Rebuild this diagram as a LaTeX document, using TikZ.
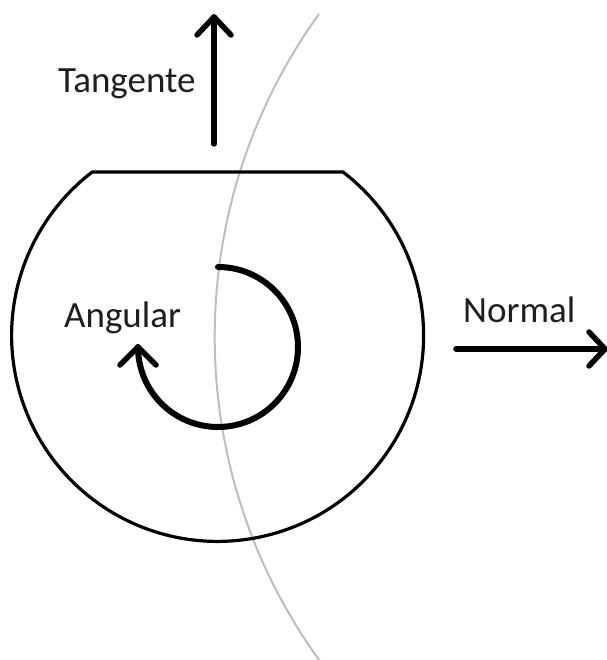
\documentclass[tikz,border=0pt]{standalone}
\usepackage{fontspec}
\setmainfont{Carlito}
\definecolor{txt}{RGB}{30,30,30}
\definecolor{guide}{RGB}{190,190,190}
\tikzset{
  label/.style={anchor=base west, inner sep=0pt, text=txt, font=\fontsize{37}{42}\selectfont},
  thickarrow/.style={line width=5.5pt, line cap=round, line join=round},
  outline/.style={line width=3.2pt, line join=miter},
  guideline/.style={guide, line width=2pt}
}
\begin{document}
\begin{tikzpicture}[x=1pt,y=1pt]
\useasboundingbox (0,0) rectangle (606,660);
% grey guide arc
\draw[guideline] (319,646) arc[start angle=144.2, end angle=216, radius=552];
% outer body
\draw[outline] (93,488) -- (343,488) arc[start angle=52.5, end angle=-232.5, radius=206] -- cycle;
% tangent arrow
\coordinate (tb) at (214,516);
\coordinate (tt) at (214,643);
\draw[thickarrow] (tb) -- (tt);
\draw[thickarrow] (197,625) -- (tt) -- (231,625);
% normal arrow
\coordinate (nb) at (456,311);
\coordinate (nt) at (605,311);
\draw[thickarrow] (nb) -- (nt);
\draw[thickarrow] (589,328) -- (nt) -- (589,294);
% angular arrow
\coordinate (as) at (218,393);
\draw[thickarrow, line width=6pt] (as) arc[start angle=90, end angle=-180, radius=80] coordinate (ae);
\draw[thickarrow] (120,295) -- (ae) -- (156,295);
% labels
\node[label] (tang) at (58,567.5) {Tangente};
\node[label] (ang) at (64,332) {Angular};
\node[label] (norm) at (463,337.5) {Normal};
\end{tikzpicture}
\end{document}
